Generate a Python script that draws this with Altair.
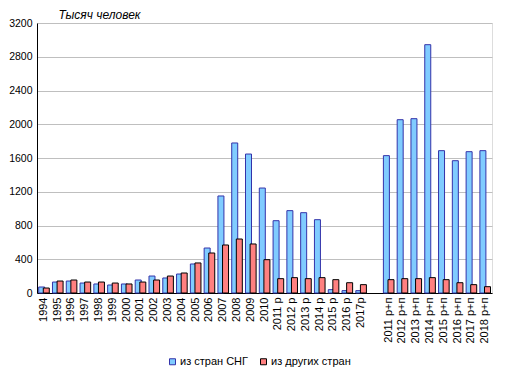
import altair as alt
import pandas as pd

categories = [
    "1994", "1995", "1996", "1997", "1998", "1999", "2000", "2001", "2002",
    "2003", "2004", "2005", "2006", "2007", "2008", "2009", "2010",
    "2011 р", "2012 р", "2013 р", "2014 р", "2015 р", "2016 р", "2017р",
    "2011 р+п", "2012 р+п", "2013 р+п", "2014 р+п", "2015 р+п", "2016 р+п",
    "2017 р+п", "2018 р+п",
]
gap_label = " "
cis_values = [71, 130, 142, 118, 107, 95, 107, 154, 201, 178, 225, 344, 533,
              1150, 1778, 1647, 1244,
              857, 976, 952, 869, 40, 28, 28,
              1628, 2054, 2066, 2943, 1687, 1568, 1675, 1687]
other_values = [59, 142, 154, 130, 130, 118, 107, 130, 154, 201, 237, 356, 474,
                569, 640, 581, 395,
                170, 182, 170, 182, 158, 122, 99,
                158, 170, 170, 182, 158, 122, 99, 75]
series_names = ["из стран СНГ", "из других стран"]
y_ticks = [0, 400, 800, 1200, 1600, 2000, 2400, 2800, 3200]
y_title = "Тысяч человек"

rows = []
for c, v in zip(categories, cis_values):
    rows.append({"cat": c, "series": series_names[0], "value": v})
for c, v in zip(categories, other_values):
    rows.append({"cat": c, "series": series_names[1], "value": v})
df = pd.DataFrame(rows)

domain = categories[:24] + [gap_label] + categories[24:]

legend = alt.Legend(
    title=None, orient="none", legendX=130, legendY=333, direction="horizontal",
    symbolType="square", symbolSize=36, symbolStrokeWidth=1,
    labelFontSize=11, labelFont="Liberation Sans", labelColor="black",
    columnPadding=10, labelOffset=2, padding=0,
)

base = alt.Chart(df).encode(
    x=alt.X("cat:N", sort=domain,
            scale=alt.Scale(domain=domain, paddingInner=0, paddingOuter=0),
            axis=alt.Axis(title=None, labelAngle=270, ticks=False, labelFontSize=11,
                          labelFont="Liberation Sans", labelColor="black",
                          labelPadding=4, domainColor="black", grid=False)),
    y=alt.Y("value:Q", scale=alt.Scale(domain=[0, 3200], nice=False),
            axis=alt.Axis(values=y_ticks, format="d", title=y_title,
                          titleAngle=0, titleX=21, titleY=-5, titleAlign="left",
                          titleBaseline="alphabetic", titleFontSize=12,
                          titleFontStyle="italic", titleFontWeight="normal",
                          titleFont="Liberation Sans", titleColor="black",
                          ticks=False,
                          labelPadding=5, labelFontSize=10.5,
                          labelFont="Liberation Sans",
                          labelColor="black", domainColor="black",
                          gridColor="#BFBFBF", gridWidth=1)),
    fill=alt.Fill("series:N", scale=alt.Scale(domain=series_names,
                                              range=["#80CCFF", "#FF8080"]),
                  legend=legend),
    stroke=alt.Stroke("series:N", scale=alt.Scale(domain=series_names,
                                                  range=["#3333AA", "#000000"]),
                      legend=legend),
)

blue = base.transform_filter(alt.datum.series == series_names[0]).mark_bar(
    size=6, xOffset=-2.2, strokeWidth=1, opacity=1)
red = base.transform_filter(alt.datum.series == series_names[1]).mark_bar(
    size=6, xOffset=2.4, strokeWidth=1, opacity=1)

chart = alt.layer(blue, red).properties(
    width=455, height=270,
    autosize=alt.AutoSizeParams(type="none"),
    padding={"left": 29, "top": 15, "right": 18, "bottom": 82},
).configure_view(stroke="#808080", strokeWidth=1).configure(font="Liberation Sans")

chart.save("out.html", embed_options={"renderer": "svg", "actions": False})
